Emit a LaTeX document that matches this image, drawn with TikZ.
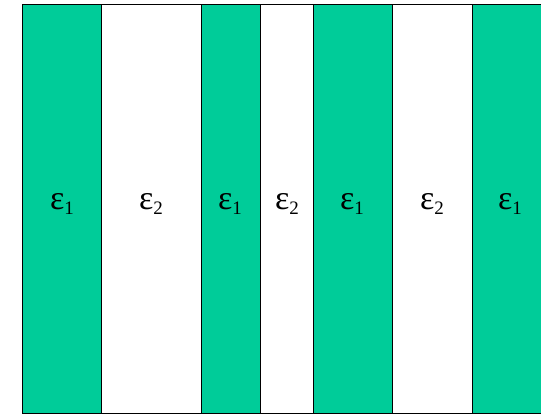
\documentclass[tikz,border=0pt]{standalone}
\usepackage{fontspec}
\setmainfont{Liberation Serif}
\definecolor{stripegreen}{HTML}{00CC99}
\newcommand{\epsl}[1]{ε\raisebox{-5pt}{\fontsize{19}{20}\selectfont #1}}
\begin{document}
\begin{tikzpicture}[x=1pt,y=1pt,
  greenstripe/.style={fill=stripegreen,draw=black,line width=0.9pt},
  whitestripe/.style={fill=white,draw=black,line width=0.9pt},
  lbl/.style={font=\fontsize{34}{36}\selectfont,inner sep=0pt,anchor=base}]
\useasboundingbox (0,0) rectangle (541,414);
\begin{scope}
\clip (0,0) rectangle (541,414);
\path[greenstripe] (22,1) rectangle (101,410);
\path[whitestripe] (101,1) rectangle (201,410);
\path[greenstripe] (201,1) rectangle (260,410);
\path[whitestripe] (260,1) rectangle (313,410);
\path[greenstripe] (313,1) rectangle (392,410);
\path[whitestripe] (392,1) rectangle (472,410);
\path[greenstripe] (472,1) rectangle (560,410);
\end{scope}
\node[lbl] (a1) at (62,204) {\epsl{1}};
\node[lbl] (b1) at (151,204) {\epsl{2}};
\node[lbl] (a2) at (230,204) {\epsl{1}};
\node[lbl] (b2) at (287,204) {\epsl{2}};
\node[lbl] (a3) at (352,204) {\epsl{1}};
\node[lbl] (b3) at (432,204) {\epsl{2}};
\node[lbl] (a4) at (510,204) {\epsl{1}};
\end{tikzpicture}
\end{document}
